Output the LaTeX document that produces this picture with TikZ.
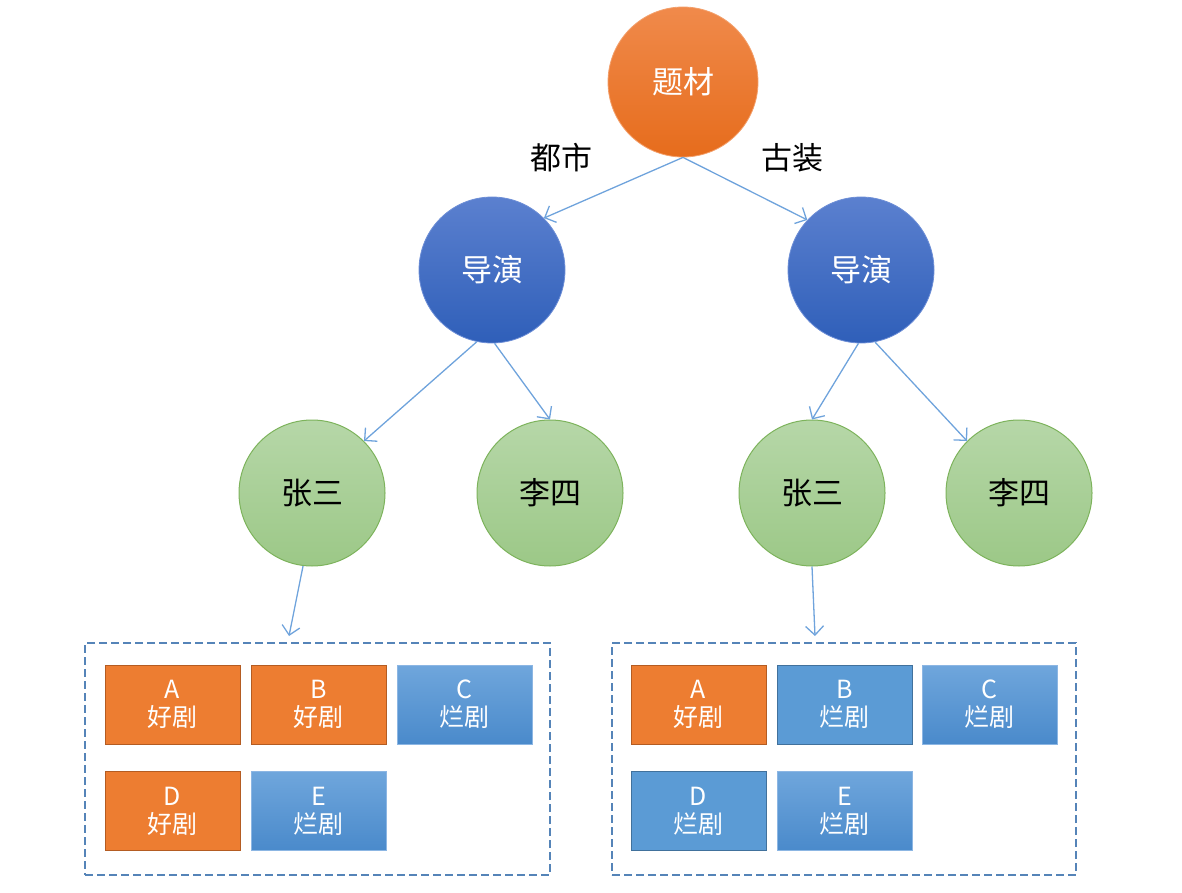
\documentclass[tikz,border=0pt]{standalone}
\usepackage{fontspec}
\setmainfont{Noto Sans CJK SC}
\usetikzlibrary{arrows.meta}
\definecolor{orTop}{HTML}{F08A4B}
\definecolor{orBot}{HTML}{E66C1C}
\definecolor{orLine}{HTML}{F3A06C}
\definecolor{bluTop}{HTML}{5B80CF}
\definecolor{bluBot}{HTML}{2F5FB9}
\definecolor{bluLine}{HTML}{6D8ED6}
\definecolor{grTop}{HTML}{B6D7A8}
\definecolor{grBot}{HTML}{9CC887}
\definecolor{grLine}{HTML}{7DB35C}
\definecolor{goodFill}{HTML}{ED7D31}
\definecolor{goodLine}{HTML}{B45C22}
\definecolor{badTop}{HTML}{6FA6DC}
\definecolor{badBot}{HTML}{4A8ACB}
\definecolor{badLine}{HTML}{8CB6E3}
\definecolor{flatFill}{HTML}{5B9BD5}
\definecolor{flatLine}{HTML}{41719C}
\definecolor{lnk}{HTML}{6FA3DC}
\definecolor{grp}{HTML}{5584B8}
\begin{document}
\begin{tikzpicture}[x=1pt,y=-1pt,
  topic/.style={circle, minimum size=150pt, inner sep=0pt, top color=orTop, bottom color=orBot, draw=orLine, line width=0.8pt, text=white, font=\fontsize{31}{36}\selectfont},
  dir/.style={circle, minimum size=146pt, inner sep=0pt, top color=bluTop, bottom color=bluBot, draw=bluLine, line width=0.8pt, text=white, font=\fontsize{31}{36}\selectfont},
  person/.style={circle, minimum size=146pt, inner sep=0pt, top color=grTop, bottom color=grBot, draw=grLine, line width=1pt, text=black, font=\fontsize{31}{36}\selectfont},
  cardbase/.style={rectangle, minimum width=135pt, minimum height=79pt, inner sep=0pt, text=white, align=center, font=\fontsize{25}{28}\selectfont},
  good/.style={cardbase, fill=goodFill, draw=goodLine, line width=1pt},
  bad/.style={cardbase, top color=badTop, bottom color=badBot, draw=badLine, line width=1pt},
  badflat/.style={cardbase, fill=flatFill, draw=flatLine, line width=1pt},
  link/.style={draw=lnk, line width=1.3pt, -{Straight Barb[length=9pt,width=18pt]}},
  group/.style={rectangle, draw=grp, dash pattern=on 8pt off 4pt, line width=1.3pt, minimum height=232pt, inner sep=0pt},
  lbl/.style={font=\fontsize{31}{36}\selectfont, text=black}
]
\useasboundingbox (0,0) rectangle (1182,893);

\node[topic] (t) at (683,82) {题材};
\node[dir] (dl) at (492,270) {导演};
\node[dir] (dr) at (861,270) {导演};
\node[person] (zl) at (312,493) {张三};
\node[person] (ll) at (550,493) {李四};
\node[person] (zr) at (812,493) {张三};
\node[person] (lr) at (1019,493) {李四};

\node[lbl] (ldu) at (561,158) {都市};
\node[lbl] (lgu) at (792,158) {古装};

\node[group, minimum width=465pt] (gl) at (317.5,759) {};
\node[group, minimum width=464pt] (gr) at (844,759) {};

\node[good] (la) at (172.5,704.5) {A\\[0pt]好剧};
\node[good] (lb) at (318.5,704.5) {B\\[0pt]好剧};
\node[bad]  (lc) at (464.5,704.5) {C\\[0pt]烂剧};
\node[good] (ld) at (172.5,811) {D\\[0pt]好剧};
\node[bad]  (le) at (318.5,811) {E\\[0pt]烂剧};

\node[good]    (ra) at (698.5,704.5) {A\\[0pt]好剧};
\node[badflat] (rb) at (844.5,704.5) {B\\[0pt]烂剧};
\node[bad]     (rc) at (989.5,704.5) {C\\[0pt]烂剧};
\node[badflat] (rd) at (698.5,811) {D\\[0pt]烂剧};
\node[bad]     (re) at (844.5,811) {E\\[0pt]烂剧};

\coordinate (el) at (289,636);
\coordinate (er) at (815,636);

\draw[link] (t.south) -- (dl.45);
\draw[link] (t.south) -- (dr.137);
\draw[link] (dl.258) -- (zl.45);
\draw[link] (dl.272) -- (ll.north);
\draw[link] (dr.268) -- (zr.north);
\draw[link] (dr.281) -- (lr.135);
\draw[link] (zl.263) -- (el);
\draw[link] (zr.south) -- (er);
\end{tikzpicture}
\end{document}
